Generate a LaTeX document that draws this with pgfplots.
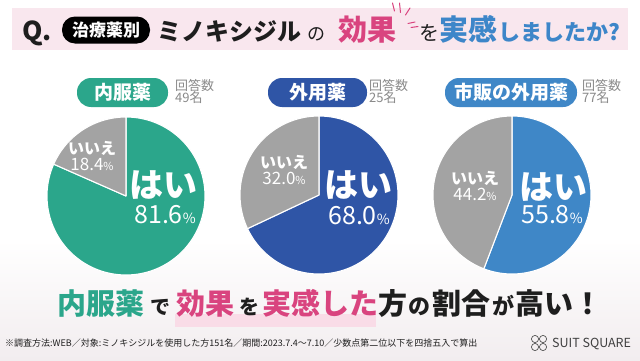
\documentclass[border=0pt]{standalone}
\usepackage{pgfplots}
\pgfplotsset{compat=1.18}
\usepgfplotslibrary{polar}
\usepackage{fontspec}
\setmainfont{Noto Sans CJK JP}
\definecolor{cTeal}{HTML}{2BA68B}
\definecolor{cNavy}{HTML}{2F55A6}
\definecolor{cBlue}{HTML}{3F87C7}
\definecolor{cGray}{HTML}{A3A3A3}
\definecolor{cPink}{HTML}{D9447F}
\definecolor{cTBlue}{HTML}{3D86C9}
\definecolor{cBand}{HTML}{F9E7EE}
\definecolor{cHi}{HTML}{F9DCE7}
\definecolor{cTxt}{HTML}{1E1E1E}
\definecolor{cSub}{HTML}{8A8A8A}
\definecolor{cHaze}{HTML}{F2EDEF}
\newcommand\fs[1]{\fontsize{#1}{#1}\selectfont}
% data: share answering "yes" (%) per group
\def\yesA{81.6}\def\noA{18.4}
\def\yesB{68.0}\def\noB{32.0}
\def\yesC{55.8}\def\noC{44.2}
\pgfmathsetmacro\aA{90-3.6*\yesA}\pgfmathsetmacro\bA{90+3.6*\noA}
\pgfmathsetmacro\aB{90-3.6*\yesB}\pgfmathsetmacro\bB{90+3.6*\noB}
\pgfmathsetmacro\aC{90-3.6*\yesC}\pgfmathsetmacro\bC{90+3.6*\noC}
\pgfplotsset{
  pie/.style={hide axis, scale only axis, width=158pt, height=158pt,
    ymin=0, ymax=1, anchor=origin, clip=false},
  slice/.style={draw=white, line width=1.1pt, samples=150, mark=none, line join=round},
}
\begin{document}
\begin{tikzpicture}[x=1pt,y=1pt]
\path[use as bounding box] (0,0) rectangle (640,360);
\fill[white] (0,0) rectangle (640,360);
\shade[top color=white, bottom color=cHaze] (0,0) rectangle (640,120);
% title band
\fill[cBand] (12,310) rectangle (628,352);
\node[anchor=base west, inner sep=0, font=\bfseries\fs{26}, text=cTxt] at (22,320) {Q.};
\node[fill=black, rounded corners=13pt, minimum width=88pt, minimum height=27pt, inner sep=0,
  text=white, font=\bfseries\fs{17}] at (106,330) {治療薬別};
\node[anchor=base west, inner sep=0, font=\bfseries\fs{24}, text=cTxt] at (157,320) {ミノキシジル};
\node[anchor=base west, inner sep=0, font=\fs{18}, text=cTxt] at (307,320) {の};
\node[anchor=base west, inner sep=0, font=\bfseries\fs{29}, text=cPink] at (338,320) {効果};
\node[anchor=base west, inner sep=0, font=\fs{20}, text=cTxt] at (419,320) {を};
\node[anchor=base west, inner sep=0, font=\bfseries\fs{29}, text=cTBlue] at (439,320) {実感};
\node[anchor=base west, inner sep=0, font=\bfseries\fs{22}, text=cTBlue] at (498,320) {しましたか?};
\begin{scope}[cPink, line width=1pt, line cap=round]
\draw (392.5,357) -- (394.5,349);
\draw (399.5,357) -- (400.5,347.5);
\draw (410,352) -- (405.5,345);
\draw (415,338) -- (408,336.5);
\draw (418,333.5) -- (411,332.5);
\end{scope}
% pies
\begin{polaraxis}[pie, at={(126pt,164pt)}]
\addplot[slice, fill=cTeal, domain=\aA:90] {1} -- (axis cs:0,0) -- cycle;
\addplot[slice, fill=cGray, domain=90:\bA] {1} -- (axis cs:0,0) -- cycle;
\end{polaraxis}
\begin{polaraxis}[pie, at={(319pt,165pt)}]
\addplot[slice, fill=cNavy, domain=\aB:90] {1} -- (axis cs:0,0) -- cycle;
\addplot[slice, fill=cGray, domain=90:\bB] {1} -- (axis cs:0,0) -- cycle;
\end{polaraxis}
\begin{polaraxis}[pie, at={(512pt,165pt)}]
\addplot[slice, fill=cBlue, domain=\aC:90] {1} -- (axis cs:0,0) -- cycle;
\addplot[slice, fill=cGray, domain=90:\bC] {1} -- (axis cs:0,0) -- cycle;
\end{polaraxis}
% pie labels
\begin{scope}[every node/.style={inner sep=0, text=white}]
\node[font=\bfseries\fs{34}] at (163,175) {はい};
\node at (165,145) {{\fs{25}81.6}{\fs{14}\%}};
\node[font=\bfseries\fs{16}] at (92,212) {いいえ};
\node at (92,196) {{\fs{17}18.4}{\fs{11}\%}};
\node[font=\bfseries\fs{34}] at (358,175) {はい};
\node at (359,144) {{\fs{25}68.0}{\fs{14}\%}};
\node[font=\bfseries\fs{16}] at (284,198) {いいえ};
\node at (284,182) {{\fs{17}32.0}{\fs{11}\%}};
\node[font=\bfseries\fs{34}] at (553,173) {はい};
\node at (552,145) {{\fs{25}55.8}{\fs{14}\%}};
\node[font=\bfseries\fs{16}] at (475,182) {いいえ};
\node at (475,166) {{\fs{17}44.2}{\fs{11}\%}};
\end{scope}
% group pills
\begin{scope}[every node/.style={rounded corners=14pt, minimum height=29pt, inner sep=0, text=white, font=\bfseries\fs{19}}]
\node[fill=cTeal, minimum width=91pt] at (122.5,267.5) {内服薬};
\node[fill=cNavy, minimum width=99pt] at (317.5,267.5) {外用薬};
\node[fill=cBlue, minimum width=132pt] at (511,267.5) {市販の外用薬};
\end{scope}
\begin{scope}[every node/.style={anchor=north west, inner sep=0, align=left, text=cSub, font=\fs{13}}]
\node at (175,281) {回答数\\[-1pt]49名};
\node at (369,281) {回答数\\[-1pt]25名};
\node at (582,281) {回答数\\[-1pt]77名};
\end{scope}
% caption
\fill[cHi] (175,33) rectangle (376,46);
\begin{scope}[every node/.style={anchor=base west, inner sep=0}]
\node[font=\bfseries\fs{29}, text=cTeal] at (57,46) {内服薬};
\node[font=\bfseries\fs{20}, text=cTxt] at (150,46) {で};
\node[font=\bfseries\fs{29}, text=cPink] at (176,46) {効果};
\node[font=\bfseries\fs{20}, text=cTxt] at (239,46) {を};
\node[font=\bfseries\fs{29}, text=cPink] at (262,46) {実感した};
\node[font=\bfseries\fs{29}, text=cTxt] at (378,46) {方};
\node[font=\bfseries\fs{22}, text=cTxt] at (408,46) {の};
\node[font=\bfseries\fs{29}, text=cTxt] at (432,46) {割合};
\node[font=\bfseries\fs{22}, text=cTxt] at (492,46) {が};
\node[font=\bfseries\fs{29}, text=cTxt] at (515,46) {高い！};
\node[font=\fs{9}, text=cTxt] at (5,14) {※調査方法:WEB／対象:ミノキシジルを使用した方151名／期間:2023.7.4〜7.10／少数点第二位以下を四捨五入で算出};
\node[font=\fs{12.5}, text=cTxt!85] at (552,13) {SUIT SQUARE};
\end{scope}
% logo mark
\begin{scope}[cTxt!75, line width=0.7pt]
\draw (535,21) circle (3.6);
\draw (543,21) circle (3.6);
\draw (535,13) circle (3.6);
\draw (543,13) circle (3.6);
\end{scope}
\end{tikzpicture}
\end{document}
